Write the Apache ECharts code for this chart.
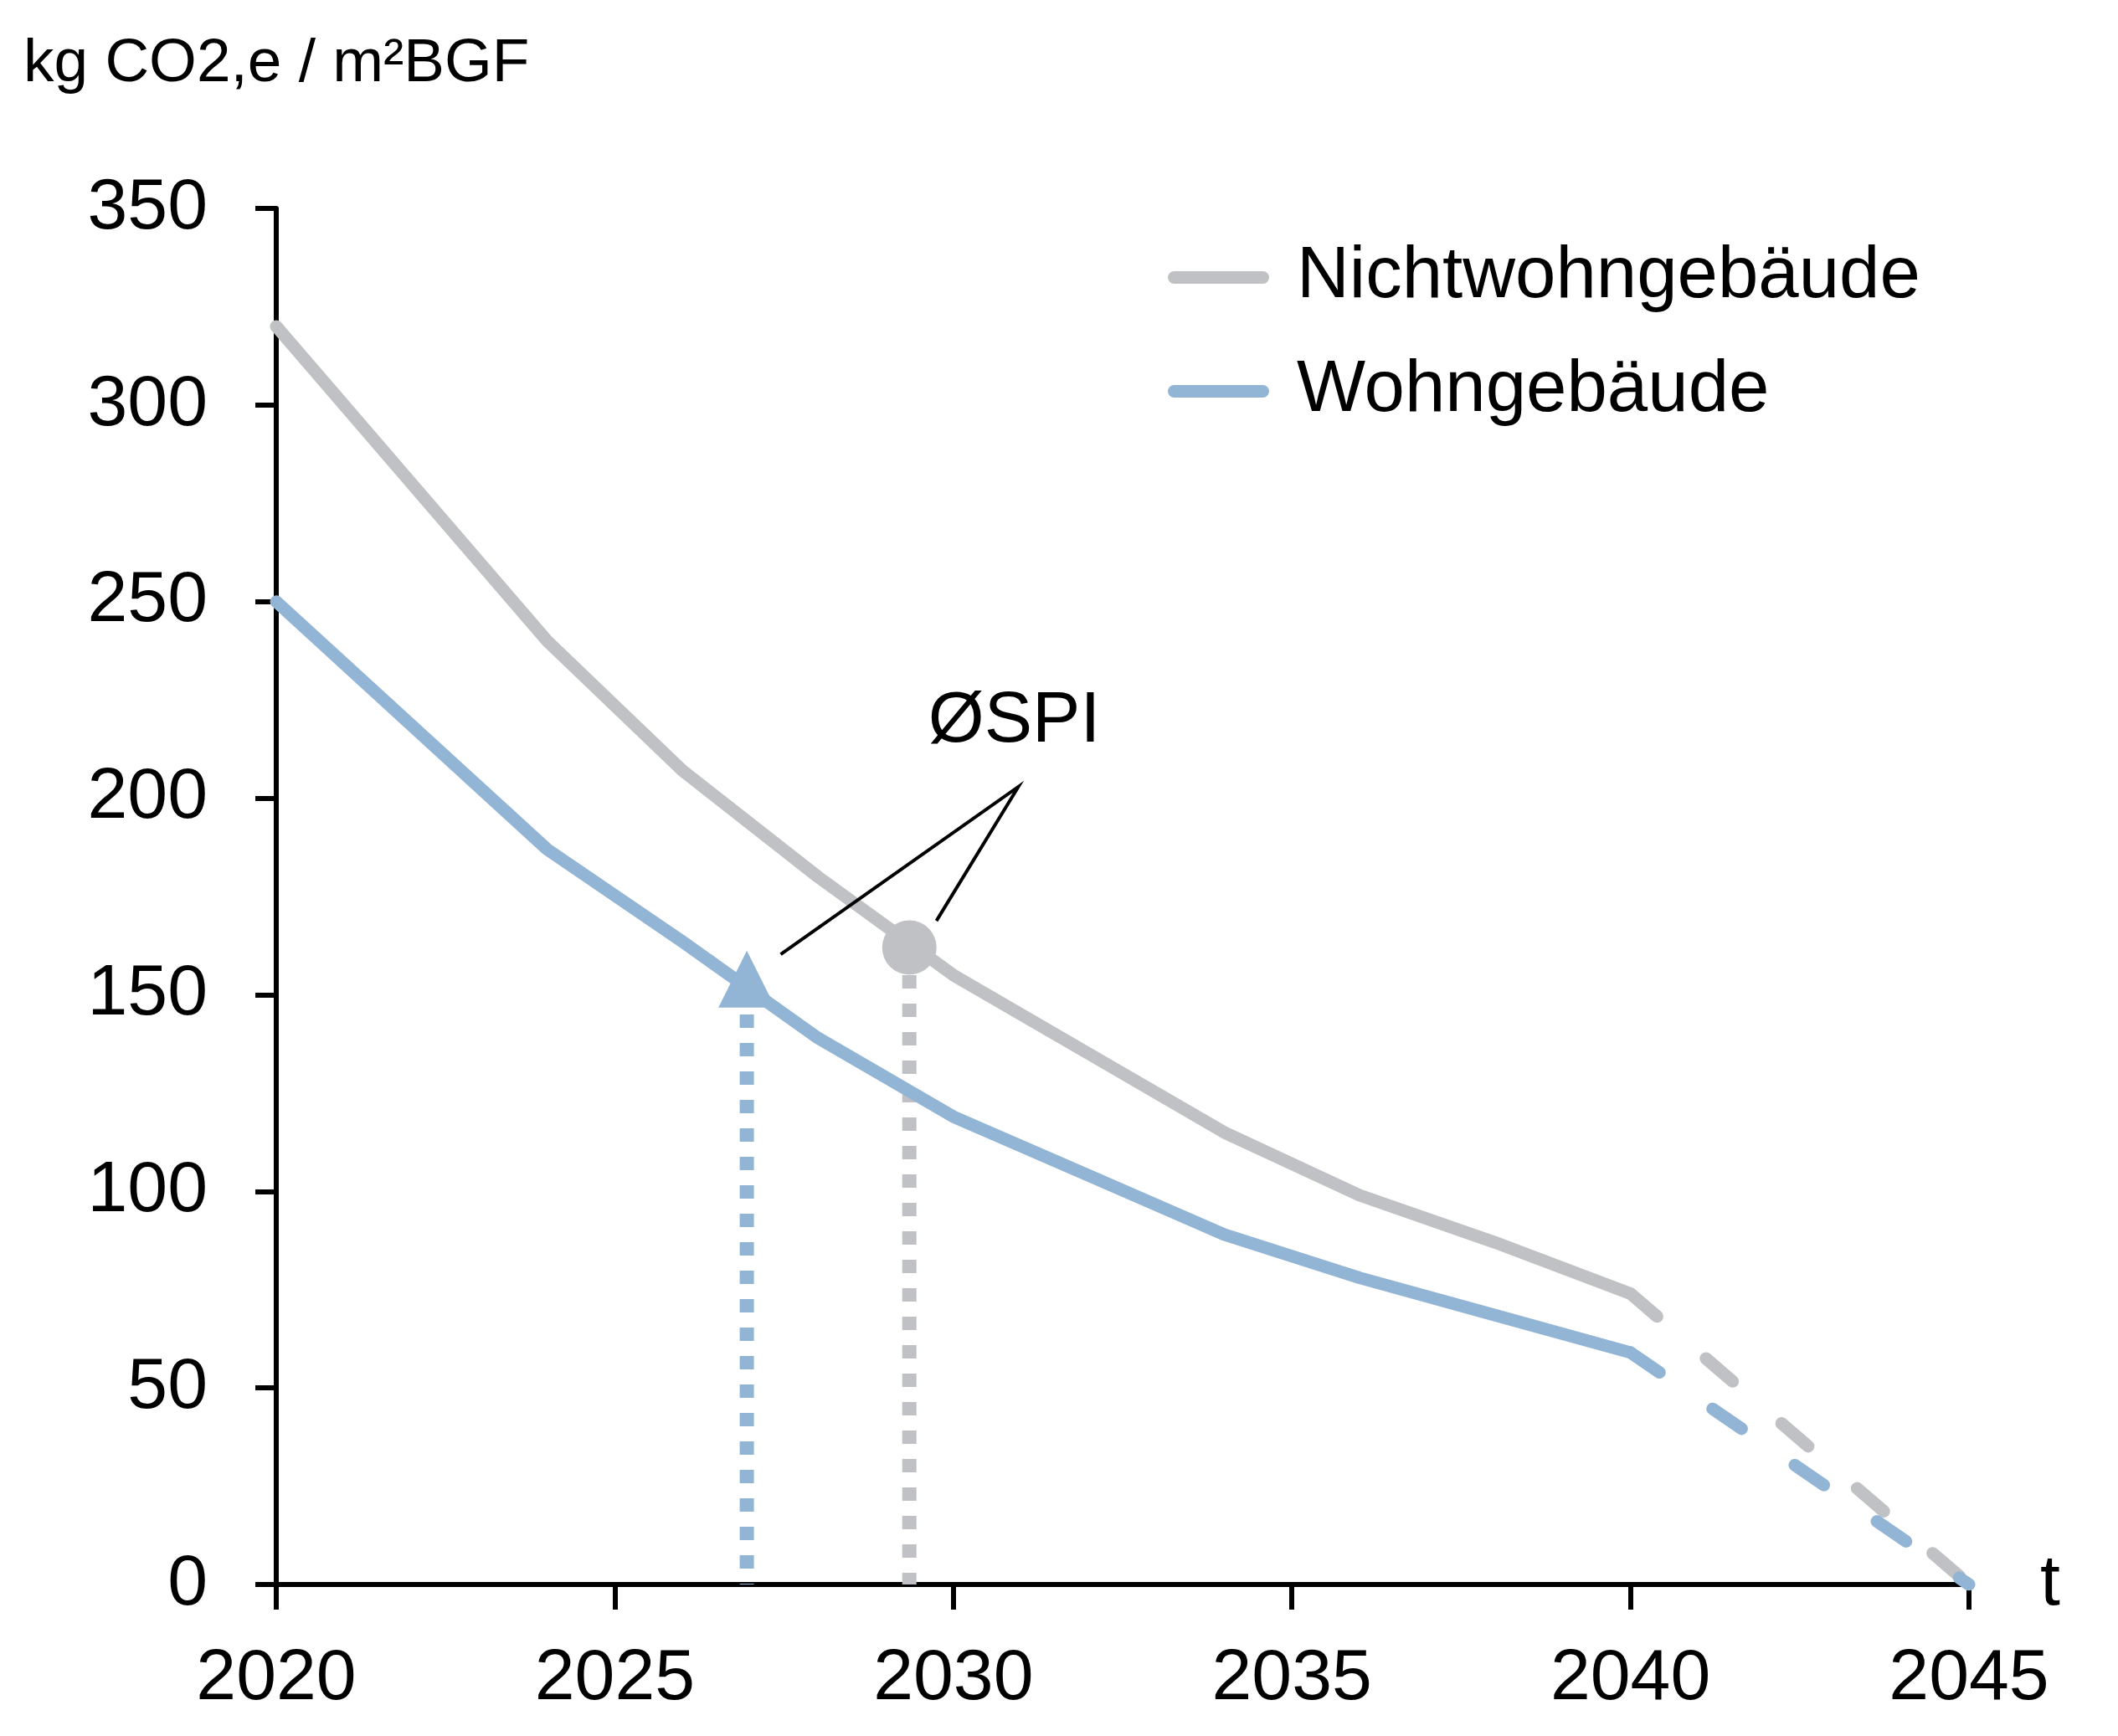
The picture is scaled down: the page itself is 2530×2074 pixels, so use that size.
<!DOCTYPE html>
<html>
<head>
<meta charset="utf-8">
<script src="https://cdn.jsdelivr.net/npm/echarts@6/dist/echarts.min.js"></script>
<style>
  html, body { margin: 0; padding: 0; background: #fff; }
  #chart { width: 2530px; height: 2074px; }
</style>
</head>
<body>
<div id="chart"></div>
<script>
var FONT = "'Liberation Sans', Arial, sans-serif";
var GREY = '#c0c1c4';
var BLUE = '#93b5d5';

// Nichtwohngebäude (grey) - solid part, then dashed to 2045
var nwgYears = [2020, 2024, 2026, 2028, 2030, 2032, 2034, 2036, 2038, 2040];
var nwgValues = [320, 240, 207, 180, 155, 135, 115, 99, 87, 74];
var nwgTailYears = [2040, 2045];
var nwgTailValues = [74, 0];

// Wohngebäude (blue)
var wgYears = [2020, 2024, 2026, 2028, 2030, 2032, 2034, 2036, 2038, 2040];
var wgValues = [250, 187, 163.5, 139, 119, 104, 89, 78, 68.5, 59];
var wgTailYears = [2040, 2045];
var wgTailValues = [59, 0];

// ØSPI markers
var spiWg = [2026.95, 154];
var spiNwg = [2029.35, 162];
var spiWgDropTop = 145;
var spiNwgDropTop = 155;

// annotation: left end, apex, right end; label position
var annoYears = [2027.45, 2030.96, 2029.75];
var annoValues = [160.3, 202.9, 168.8];
var annoLabel = [2030.9, 219.5];

var yTicks = [0, 50, 100, 150, 200, 250, 300, 350];
var xTicks = [2020, 2025, 2030, 2035, 2040, 2045];

function zip(xs, ys) {
    return xs.map(function (x, i) { return [x, ys[i]]; });
}

var chart = echarts.init(document.getElementById('chart'));

var option = {
    animation: false,
    backgroundColor: '#fff',
    textStyle: { fontFamily: FONT, color: '#000' },
    title: {
        text: 'kg CO2,e / m²BGF',
        left: 28,
        top: 40,
        padding: 0,
        textStyle: { fontFamily: FONT, fontSize: 73, fontWeight: 'normal', color: '#000' }
    },
    legend: {
        data: ['Nichtwohngebäude', 'Wohngebäude'],
        orient: 'vertical',
        left: 1390,
        top: 273,
        itemWidth: 121,
        itemHeight: 15,
        itemGap: 29,
        icon: 'path://M7.5,0 L113.5,0 A7.5,7.5 0 0 1 113.5,15 L7.5,15 A7.5,7.5 0 0 1 7.5,0 Z',
        textStyle: { fontFamily: FONT, fontSize: 87, lineHeight: 87, color: '#000', padding: [20, 0, 0, 28] }
    },
    grid: { left: 330, right: 178, top: 249, bottom: 181, containLabel: false },
    xAxis: {
        type: 'value',
        min: xTicks[0],
        max: xTicks[xTicks.length - 1],
        interval: 5,
        name: 't',
        nameLocation: 'end',
        nameGap: 85,
        nameTextStyle: { fontFamily: FONT, fontSize: 86, color: '#000' },
        axisLine: { show: true, lineStyle: { color: '#000', width: 6 } },
        axisTick: { show: true, length: 30, lineStyle: { color: '#000', width: 6 } },
        axisLabel: {
            margin: 70, fontFamily: FONT, fontSize: 86, color: '#000',
            formatter: function (v) { return String(v); }
        },
        splitLine: { show: false }
    },
    yAxis: {
        type: 'value',
        min: yTicks[0],
        max: yTicks[yTicks.length - 1],
        interval: 50,
        axisLine: { show: true, lineStyle: { color: '#000', width: 6 } },
        axisTick: { show: true, length: 25, lineStyle: { color: '#000', width: 6 } },
        axisLabel: { margin: 82, fontFamily: FONT, fontSize: 86, color: '#000' },
        splitLine: { show: false }
    },
    series: [
        {
            name: 'Nichtwohngebäude',
            type: 'line',
            data: zip(nwgYears, nwgValues),
            symbol: 'none',
            color: GREY,
            lineStyle: { color: GREY, width: 15, cap: 'round', join: 'round' },
            z: 3
        },
        {
            name: 'Nichtwohngebäude',
            type: 'line',
            data: zip(nwgTailYears, nwgTailValues),
            symbol: 'none',
            color: GREY,
            lineStyle: { color: GREY, width: 15, cap: 'round', type: [42, 77] },
            z: 3
        },
        {
            name: 'Wohngebäude',
            type: 'line',
            data: zip(wgYears, wgValues),
            symbol: 'none',
            color: BLUE,
            lineStyle: { color: BLUE, width: 15, cap: 'round', join: 'round' },
            z: 3
        },
        {
            name: 'Wohngebäude',
            type: 'line',
            data: zip(wgTailYears, wgTailValues),
            symbol: 'none',
            color: BLUE,
            lineStyle: { color: BLUE, width: 15, cap: 'round', type: [42, 77] },
            z: 3
        },
        {
            type: 'line',
            data: [[spiWg[0], spiWgDropTop], [spiWg[0], 0]],
            symbol: 'none',
            lineStyle: { color: BLUE, width: 17, type: [16, 18], cap: 'butt' },
            z: 2
        },
        {
            type: 'line',
            data: [[spiNwg[0], spiNwgDropTop], [spiNwg[0], 0]],
            symbol: 'none',
            lineStyle: { color: GREY, width: 17, type: [16, 18], cap: 'butt' },
            z: 2
        },
        {
            type: 'scatter',
            data: [spiWg],
            symbol: 'triangle',
            symbolSize: [68, 68],
            itemStyle: { color: BLUE, opacity: 1 },
            z: 5
        },
        {
            type: 'scatter',
            data: [spiNwg],
            symbol: 'circle',
            symbolSize: 65,
            itemStyle: { color: GREY, opacity: 1 },
            z: 5
        },
        {
            type: 'line',
            data: zip(annoYears, annoValues),
            symbol: 'none',
            lineStyle: { color: '#000', width: 4, join: 'miter' },
            z: 6
        },
        {
            type: 'scatter',
            data: [annoLabel],
            symbolSize: 1,
            itemStyle: { color: '#fff', opacity: 1 },
            label: {
                show: true,
                position: 'inside',
                formatter: 'ØSPI',
                fontFamily: FONT,
                fontSize: 86,
                color: '#000',
                opacity: 1,
                textBorderWidth: 0
            },
            z: 6
        }
    ]
};

chart.setOption(option);
</script>
</body>
</html>
